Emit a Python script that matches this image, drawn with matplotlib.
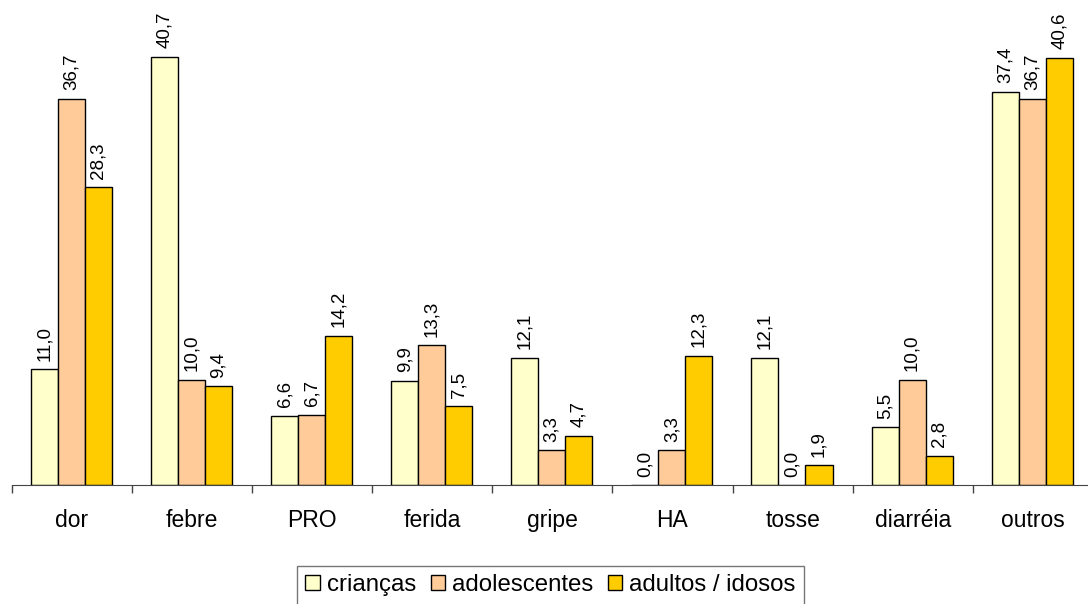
import matplotlib

matplotlib.use("Agg")
import matplotlib.pyplot as plt
import numpy as np

categories = ["dor", "febre", "PRO", "ferida", "gripe", "HA", "tosse", "diarréia", "outros"]
criancas = [11.0, 40.7, 6.6, 9.9, 12.1, 0.0, 12.1, 5.5, 37.4]
adolescentes = [36.7, 10.0, 6.7, 13.3, 3.3, 3.3, 0.0, 10.0, 36.7]
adultos = [28.3, 9.4, 14.2, 7.5, 4.7, 12.3, 1.9, 2.8, 40.6]
series_names = ["crianças", "adolescentes", "adultos / idosos"]
colors = ["#FFFFCC", "#FFCC99", "#FFCC00"]

plt.rcParams["font.family"] = ["Liberation Sans", "DejaVu Sans"]

fig = plt.figure(figsize=(10.88, 6.04), dpi=100, facecolor="white")
ax = fig.add_axes([0.011, 0.197, 0.989, 0.803])

x = np.arange(len(categories))
width = 0.225
for i, (vals, name, col) in enumerate(zip([criancas, adolescentes, adultos], series_names, colors)):
    pos = x + (i - 1) * width - 0.005
    ax.bar(pos, vals, width=width, color=col, edgecolor="black", linewidth=1.0, label=name)
    for p, v in zip(pos, vals):
        ax.text(p, v + 0.8, f"{v:.1f}".replace(".", ","), rotation=90, ha="center", va="bottom",
                fontsize=13.5, color="black")

ax.set_xlim(-0.5, 8.46)
ax.set_ylim(0, 46.1)
for s in ["top", "right", "left"]:
    ax.spines[s].set_visible(False)
ax.spines["bottom"].set_color("#444444")
ax.set_yticks([])
ax.set_xticks(x)
ax.set_xticklabels(categories, fontsize=16.5)
ax.tick_params(axis="x", which="major", length=0, pad=17)
ax.set_xticks(np.arange(len(categories)) - 0.5, minor=True)
ax.tick_params(axis="x", which="minor", length=6, color="#444444", width=1)

leg = fig.legend(loc="center", bbox_to_anchor=(0.506, 0.031), ncol=3, fontsize=17.3,
                 frameon=True, fancybox=False, edgecolor="#555555", handlelength=0.6, handleheight=0.6,
                 handletextpad=0.3, columnspacing=0.6, borderpad=0.35)
leg.get_frame().set_linewidth(1.0)

fig.savefig("out.png", dpi=100, facecolor="white")
